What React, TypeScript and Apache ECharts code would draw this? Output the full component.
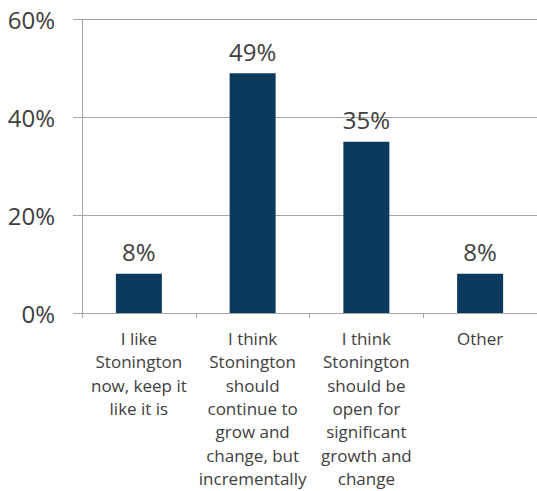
import React, { useEffect, useRef } from "react";
import * as echarts from "echarts";

const categories = [
  "I like\nStonington\nnow, keep it\nlike it is",
  "I think\nStonington\nshould\ncontinue to\ngrow and\nchange, but\nincrementally",
  "I think\nStonington\nshould be\nopen for\nsignificant\ngrowth and\nchange",
  "Other",
];
const values = [8, 49, 35, 8];
const yTicks = [0, 20, 40, 60];

export default function App() {
  const ref = useRef<HTMLDivElement>(null);
  useEffect(() => {
    if (!ref.current) return;
    const chart = echarts.init(ref.current, null, { renderer: "svg" });
    const gray = "#a6a6a6";
    const textColor = "#404040";
    const font = "'Open Sans', sans-serif";
    chart.setOption({
      animation: false,
      grid: { left: 82, right: -5, top: 19.5, bottom: 178, containLabel: false },
      xAxis: {
        type: "category",
        data: categories,
        boundaryGap: true,
        axisLine: { show: true, lineStyle: { color: gray, width: 1 } },
        axisTick: { show: true, length: 5, lineStyle: { color: gray } },
        axisLabel: {
          interval: 0,
          margin: 14,
          fontFamily: font,
          fontSize: 17,
          lineHeight: 23.3,
          color: textColor,
          align: "center",
        },
      },
      yAxis: {
        type: "value",
        min: yTicks[0],
        max: yTicks[yTicks.length - 1],
        interval: 20,
        axisLine: { show: true, lineStyle: { color: gray, width: 1 } },
        axisTick: { show: true, length: 9, lineStyle: { color: gray } },
        splitLine: { show: true, lineStyle: { color: gray, width: 1 } },
        axisLabel: {
          margin: 27,
          fontFamily: font,
          fontSize: 24,
          color: textColor,
          formatter: "{value}%",
        },
      },
      series: [
        {
          type: "bar",
          data: values,
          barWidth: 46,
          itemStyle: { color: "#0b3a5d" },
          label: {
            show: true,
            position: "top",
            distance: 10,
            fontFamily: font,
            fontSize: 24,
            color: textColor,
            formatter: "{c}%",
          },
        },
      ],
    });
    return () => chart.dispose();
  }, []);
  return (
    <div
      ref={ref}
      style={{ position: "absolute", left: 0, top: 0, width: 537, height: 491 }}
    />
  );
}
